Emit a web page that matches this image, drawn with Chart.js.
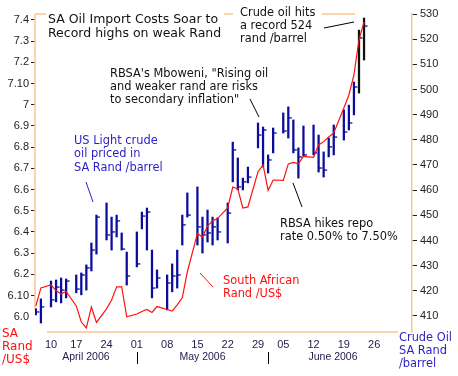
<!DOCTYPE html>
<html>
<head>
<meta charset="utf-8">
<script src="https://cdn.jsdelivr.net/npm/chart.js@4.4.1/dist/chart.umd.min.js"></script>
<style>
  html, body { margin: 0; padding: 0; background: #fff; }
  canvas { display: block; }
</style>
</head>
<body>
<canvas id="myChart" width="458" height="376"></canvas>
<script>
// trading days (US crude), weekends leave one empty slot on the axis
var tradingDays = [
  '2006-04-06', '2006-04-07',
  '2006-04-10', '2006-04-11', '2006-04-12', '2006-04-13',
  '2006-04-17', '2006-04-18', '2006-04-19', '2006-04-20', '2006-04-21',
  '2006-04-24', '2006-04-25', '2006-04-26', '2006-04-27', '2006-04-28',
  '2006-05-01', '2006-05-02', '2006-05-03', '2006-05-04', '2006-05-05',
  '2006-05-08', '2006-05-09', '2006-05-10', '2006-05-11', '2006-05-12',
  '2006-05-15', '2006-05-16', '2006-05-17', '2006-05-18', '2006-05-19',
  '2006-05-22', '2006-05-23', '2006-05-24', '2006-05-25', '2006-05-26',
  '2006-05-30', '2006-05-31', '2006-06-01', '2006-06-02',
  '2006-06-05', '2006-06-06', '2006-06-07', '2006-06-08', '2006-06-09',
  '2006-06-12', '2006-06-13', '2006-06-14', '2006-06-15', '2006-06-16',
  '2006-06-19', '2006-06-20', '2006-06-21', '2006-06-22', '2006-06-23'
];

// crude oil in SA rand /barrel
var oilHigh = [412.8, 416.8, 423.9, 424.3, 425.1, 424.7, 426.3, 427.1, 430.3, 439.0, 450.1,
  454.9, 449.3, 450.1, 443.0, 435.4, 443.4, 451.3, 452.9, 436.2, 428.3,
  426.3, 430.7, 436.2, 450.1, 458.9, 461.3, 449.3, 452.1, 449.3, 449.0,
  454.9, 479.1, 472.8, 464.8, 469.2, 486.7, 485.1, 474.0, 484.7,
  490.7, 493.1, 487.9, 476.8, 485.5, 485.9, 481.9, 475.2, 480.7, 485.9,
  491.9, 493.8, 503.0, 523.6, 528.4];
var oilLow = [410.4, 407.2, 413.6, 415.6, 415.2, 417.2, 419.2, 418.4, 420.3, 427.9, 434.6,
  440.2, 436.2, 441.4, 436.2, 422.3, 429.5, 444.6, 436.2, 417.2, 421.1,
  412.4, 419.6, 421.1, 438.2, 449.3, 438.2, 435.0, 439.4, 438.2, 440.2,
  439.0, 463.3, 460.1, 460.1, 462.9, 476.8, 469.2, 466.8, 474.8,
  482.7, 480.7, 474.8, 464.8, 473.6, 474.0, 467.2, 465.2, 473.2, 474.0,
  479.9, 483.9, 489.9, 498.6, 511.7];
var oilClose = [411.6, 413.6, 416.4, 421.5, 420.3, 423.9, 420.7, 426.3, 429.1, 436.2, 449.3,
  442.2, 443.4, 447.8, 436.6, 425.9, 430.7, 449.7, 451.3, 421.1, 425.1,
  423.1, 425.9, 426.3, 446.2, 450.1, 445.4, 442.2, 443.0, 445.4, 443.4,
  450.9, 476.0, 461.3, 463.3, 465.2, 481.9, 483.9, 472.0, 482.7,
  483.5, 488.7, 476.0, 473.2, 474.0, 474.8, 468.8, 468.0, 477.2, 481.1,
  483.1, 486.7, 501.0, 520.5, 525.2];

// South African rand per US$
var randUsd = [6.051, 6.136, 6.150, 6.122, 6.108, 6.119, 6.051, 5.975, 5.947, 6.046, 5.973,
  6.037, 6.079, 6.141, 6.141, 6.000, 6.013, 6.025, 6.034, 6.020, 6.048,
  6.034, 6.027, 6.056, 6.089, 6.211, 6.393, 6.376, 6.428, 6.452, 6.464,
  6.513, 6.612, 6.603, 6.513, 6.518, 6.684, 6.716, 6.596, 6.645,
  6.643, 6.721, 6.728, 6.721, 6.756, 6.752, 6.810, 6.826, 6.848, 6.867,
  6.985, 7.046, 7.141, 7.306, 7.391];

var weekLabels = ['10', '17', '24', '01', '08', '15', '22', '29', '05', '12', '19', '26'];
var monthLabels = ['April 2006', 'May 2006', 'June 2006'];
var randTicks = [6.0, 6.1, 6.2, 6.3, 6.4, 6.5, 6.6, 6.7, 6.8, 6.9, 7.0, 7.1, 7.2, 7.3, 7.4];
var randTickLabels = ['6.0', '6.10', '6.2', '6.3', '6.4', '6.5', '6.6', '6.7', '6.8', '6.9', '7', '7.10', '7.2', '7.3', '7.4'];
var oilTicks = [410, 420, 430, 440, 450, 460, 470, 480, 490, 500, 510, 520, 530];

// slot positions on the x axis, worked out from the dates
var slots = [];
var weekStarts = [];
var monthStarts = [];
var s = -3;
tradingDays.forEach(function (d, i) {
  var day = new Date(d + 'T00:00:00Z');
  if (i > 0) {
    var prev = new Date(tradingDays[i - 1] + 'T00:00:00Z');
    var crossed = day.getUTCDay() < prev.getUTCDay();
    s += crossed ? 2 : 1;
    if (crossed) weekStarts.push(s);
    if (day.getUTCMonth() !== prev.getUTCMonth()) monthStarts.push(s);
  }
  slots.push(s);
});
weekStarts.push(s + 2); // 26 June, axis only

var navy = '#0c0c9c';
var orange = '#fcc690';
var red = '#ff1010';
var blue = '#2b1fc0';
var barColors = slots.map(function (x, i) { return i >= slots.length - 2 ? '#111111' : navy; });

var notes = [
  { lines: ['SA Oil Import Costs Soar to', 'Record highs on weak Rand'], x: 48, y: 20, lh: 13.3, size: 12.5, color: '#111' },
  { lines: ['Crude oil hits', 'a record 524', 'rand /barrel'], x: 240, y: 13.3, lh: 12.9, size: 11.4, color: '#111' },
  { lines: ['RBSA\'s Mboweni, "Rising oil', 'and weaker rand are risks', 'to secondary inflation"'], x: 110, y: 73.7, lh: 13, size: 11.4, color: '#111' },
  { lines: ['US Light crude', 'oil priced in', 'SA Rand /barrel'], x: 74, y: 141.2, lh: 13.2, size: 11.4, color: blue },
  { lines: ['RBSA hikes repo', 'rate 0.50% to 7.50%'], x: 280, y: 224, lh: 13, size: 11.4, color: '#111' },
  { lines: ['South African', 'Rand /US$'], x: 223, y: 281.5, lh: 12.3, size: 11.4, color: red },
  { lines: ['SA', 'Rand', '/US$'], x: 2, y: 334.3, lh: 12.8, size: 12, color: red },
  { lines: ['Crude Oil', 'SA Rand', '/barrel'], x: 399, y: 338.3, lh: 12.9, size: 11.4, color: blue }
];
var callouts = [
  [324, 28, 354, 22, '#000'],
  [250, 99, 259, 117, '#000'],
  [86, 182, 93, 202, blue],
  [293, 183, 302, 207, '#000'],
  [200, 273, 213, 287, red]
];
var axisEndSlot = 68.7;
var leftAxisEnd = 6.03;

var decorations = {
  id: 'decorations',
  beforeDatasetsDraw: function (chart) {
    var c = chart.ctx, a = chart.chartArea, xs = chart.scales.x, ys = chart.scales.y;
    c.save();
    c.strokeStyle = orange;
    c.lineWidth = 1.5;
    c.beginPath();
    c.moveTo(a.left, a.top); c.lineTo(355, a.top);
    c.moveTo(a.left, a.top); c.lineTo(a.left, ys.getPixelForValue(leftAxisEnd));
    c.moveTo(xs.getPixelForValue(-0.8), a.bottom); c.lineTo(xs.getPixelForValue(axisEndSlot), a.bottom);
    c.stroke();
    c.fillStyle = '#fff';
    c.fillRect(46, 6, 178, 36);
    c.fillRect(233, 4, 89, 42);
    c.restore();
  },
  afterDraw: function (chart) {
    var c = chart.ctx, a = chart.chartArea, xs = chart.scales.x;
    c.save();
    c.textBaseline = 'middle';
    c.textAlign = 'left';
    notes.forEach(function (n) {
      c.font = n.size + 'px "DejaVu Sans"';
      c.fillStyle = n.color;
      n.lines.forEach(function (t, k) { c.fillText(t, n.x, n.y + k * n.lh); });
    });
    c.lineWidth = 1;
    callouts.forEach(function (l) {
      c.strokeStyle = l[4];
      c.beginPath(); c.moveTo(l[0], l[1]); c.lineTo(l[2], l[3]); c.stroke();
    });
    // month separators and month names
    var bounds = [a.left].concat(monthStarts.map(function (m) { return xs.getPixelForValue(m); }), [xs.getPixelForValue(axisEndSlot)]);
    c.strokeStyle = '#000';
    c.beginPath();
    monthStarts.forEach(function (m) {
      var px = Math.round(xs.getPixelForValue(m)) + 0.5;
      c.moveTo(px, 352); c.lineTo(px, 364);
    });
    c.stroke();
    c.font = '10.5px "Liberation Sans"';
    c.fillStyle = '#1c1c4c';
    c.textAlign = 'center';
    monthLabels.forEach(function (t, k) { c.fillText(t, (bounds[k] + bounds[k + 1]) / 2, 357); });
    c.restore();
  }
};

var ctx = document.getElementById('myChart').getContext('2d');
var myChart = new Chart(ctx, {
  type: 'bar',
  data: {
    datasets: [{
      type: 'line',
      label: 'South African Rand /US$',
      data: slots.map(function (x, i) { return { x: x, y: randUsd[i] }; }),
      yAxisID: 'y',
      borderColor: red,
      borderWidth: 1.2,
      pointRadius: 0,
      tension: 0,
      order: 0
    }, {
      type: 'line',
      label: 'close',
      data: slots.map(function (x, i) { return { x: x, y: oilClose[i] }; }),
      yAxisID: 'y1',
      showLine: false,
      pointStyle: 'dash',
      pointRadius: 3.5,
      pointBorderWidth: 1.3,
      pointBorderColor: navy,
      order: 1
    }, {
      type: 'bar',
      label: 'US Light crude oil priced in SA Rand /barrel',
      data: slots.map(function (x, i) { return { x: x, y: [oilLow[i], oilHigh[i]] }; }),
      yAxisID: 'y1',
      backgroundColor: barColors,
      borderWidth: 0,
      barThickness: 1.6,
      order: 2
    }]
  },
  options: {
    responsive: false,
    animation: false,
    devicePixelRatio: 1,
    layout: { padding: { top: 14, left: 0, right: 0, bottom: 0 } },
    plugins: { legend: { display: false }, tooltip: { enabled: false } },
    scales: {
      x: {
        type: 'linear',
        min: -3.17,
        max: 71.5,
        offset: false,
        afterFit: function (sc) { sc.height = 44; },
        afterBuildTicks: function (sc) { sc.ticks = weekStarts.map(function (v) { return { value: v }; }); },
        grid: { display: false, drawTicks: false, offset: false },
        border: { display: false },
        ticks: {
          autoSkip: false, maxRotation: 0, padding: 6,
          font: { family: 'Liberation Sans', size: 11 }, color: '#1c1c4c',
          callback: function (v, i) { return weekLabels[i]; }
        }
      },
      y: {
        position: 'left',
        min: 5.928,
        max: 7.428,
        afterFit: function (sc) { sc.width = 35; },
        afterBuildTicks: function (sc) { sc.ticks = randTicks.map(function (v) { return { value: v }; }); },
        grid: {
          drawOnChartArea: false, tickLength: 4,
          color: function (c) { return c.index === 0 ? 'rgba(0,0,0,0)' : '#222'; }
        },
        border: { display: false },
        ticks: {
          padding: 2, font: { family: 'Liberation Sans', size: 11 }, color: '#222',
          callback: function (v, i) { return randTickLabels[i]; }
        }
      },
      y1: {
        position: 'right',
        min: 403.64,
        max: 530,
        afterFit: function (sc) { sc.width = 46; },
        afterBuildTicks: function (sc) { sc.ticks = oilTicks.map(function (v) { return { value: v }; }); },
        grid: { drawOnChartArea: false, tickLength: 5, color: '#222' },
        border: { color: orange, width: 1.5 },
        ticks: {
          padding: 3, font: { family: 'Liberation Sans', size: 11 }, color: '#222',
          callback: function (v) { return String(v); }
        }
      }
    }
  },
  plugins: [decorations]
});
</script>
</body>
</html>
